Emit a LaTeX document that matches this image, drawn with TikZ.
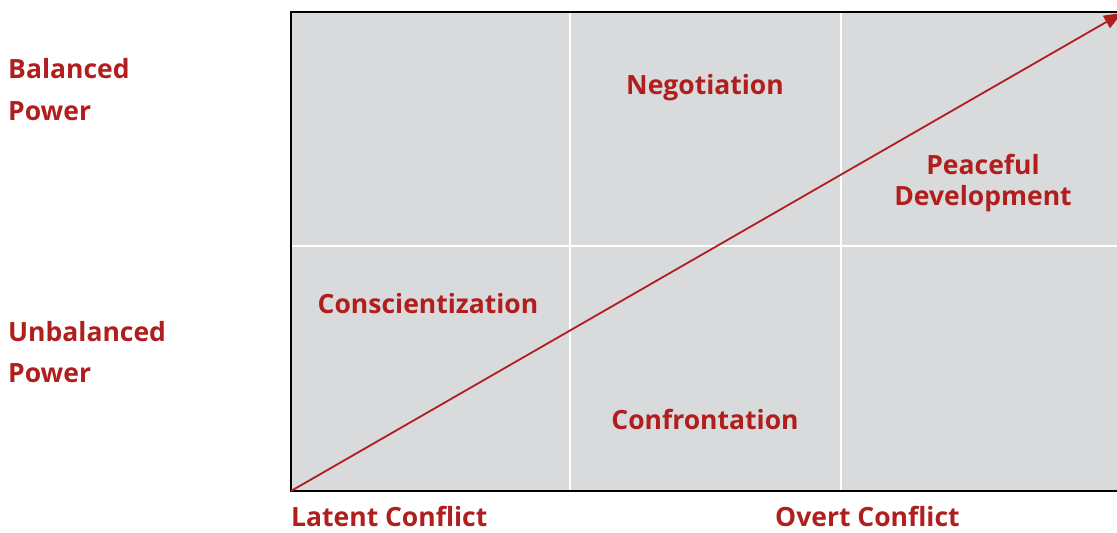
\documentclass[tikz,border=0pt]{standalone}
\usepackage{fontspec}
\setmainfont{Open Sans}
\usetikzlibrary{arrows.meta}
\definecolor{myred}{HTML}{B01E1E}
\definecolor{mygray}{HTML}{D9DADB}
\tikzset{
  lbl/.style={text=myred, font=\fontsize{26.5}{31}\selectfont\bfseries, inner sep=0pt},
  axl/.style={lbl, anchor=west},
  botl/.style={lbl, anchor=base west, text depth=0pt},
  grid/.style={white, line width=2.5pt},
  arr/.style={myred, line width=1.8pt, -{Triangle[length=18pt,width=14pt]}}
}
\begin{document}
\begin{tikzpicture}[x=1pt,y=-1pt]
\useasboundingbox (0,0) rectangle (1117,533);
\fill[mygray] (291,12) rectangle (1117,491);
\draw[grid] (570,12) -- (570,491);
\draw[grid] (841,12) -- (841,491);
\draw[grid] (291,246) -- (1117,246);
\draw[black, line width=2pt] (1117,12) -- (291,12) -- (291,491) -- (1117,491);
\coordinate (start) at (291,491);
\coordinate (end) at (1122,13);
\draw[arr] (start) -- (end);
\node[axl] (b1) at (8,69) {Balanced};
\node[axl] (b2) at (8,111) {Power};
\node[axl] (u1) at (8,332) {Unbalanced};
\node[axl] (u2) at (8,373) {Power};
\node[lbl] (neg) at (705,88) {Negotiation};
\node[lbl, align=center] (peace) at (983,183) {Peaceful\\Development};
\node[lbl] (cons) at (428,304) {Conscientization};
\node[lbl] (conf) at (705,419) {Confrontation};
\node[botl] (lat) at (291,526) {Latent Conflict};
\node[botl] (ovt) at (775,526) {Overt Conflict};
\end{tikzpicture}
\end{document}
